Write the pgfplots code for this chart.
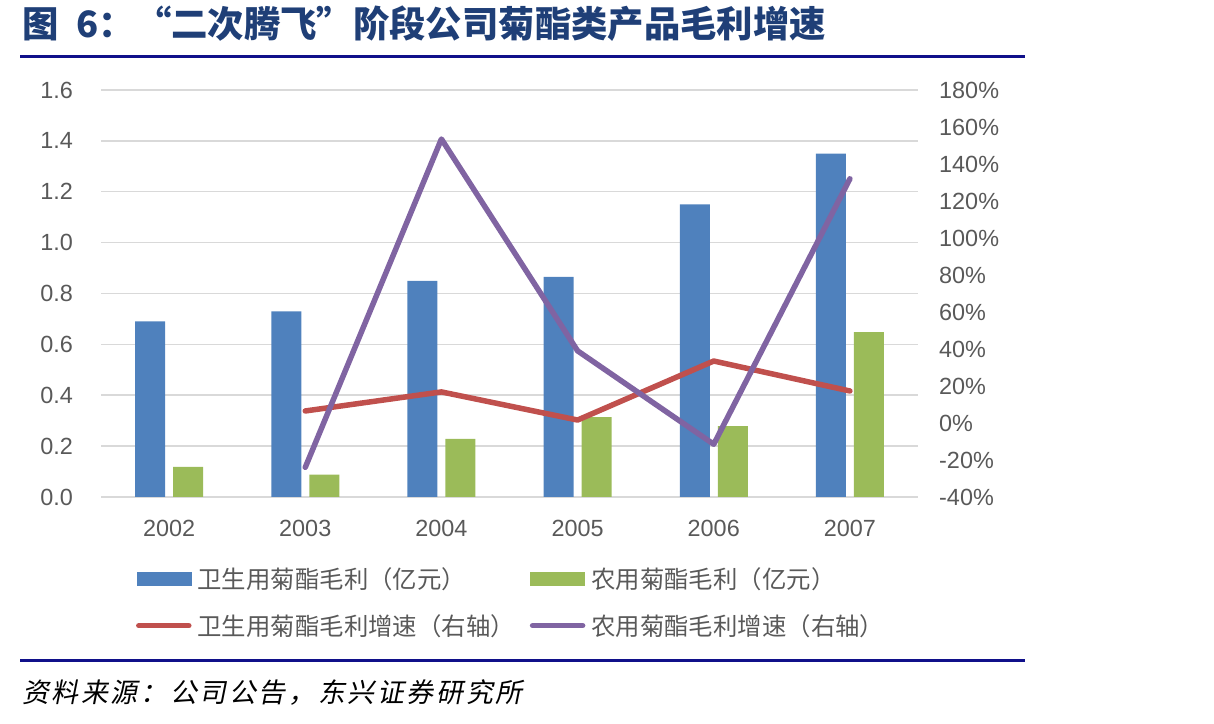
\documentclass[border=0pt]{standalone}
\usepackage{pgfplots}
\pgfplotsset{compat=1.18}
\usepackage{fontspec}
\setmainfont{Liberation Sans}
\newfontfamily\cjk{Noto Sans CJK SC}
\newfontfamily\cjkit{Noto Sans CJK SC}[FakeSlant=0.2, LetterSpace=10]
\definecolor{cblue}{HTML}{4F81BD}
\definecolor{cgreen}{HTML}{9BBB59}
\definecolor{cred}{HTML}{C0504D}
\definecolor{cpurple}{HTML}{8064A2}
\definecolor{tgray}{HTML}{595959}
\definecolor{gridgray}{HTML}{D9D9D9}
\definecolor{titleblue}{HTML}{1F3F77}
\definecolor{navyline}{HTML}{10108A}
\begin{document}
\begin{tikzpicture}[x=1bp,y=1bp]
\useasboundingbox (0bp,0bp) rectangle (1214bp,724bp);
\node[anchor=west, inner sep=0pt, text=titleblue, font=\cjk\bfseries\fontsize{36.5}{36.5}\selectfont] at (22bp,700bp) {图\hspace{18bp}6：“二次腾飞”阶段公司菊酯类产品毛利增速};
\draw[navyline, line width=3bp] (20bp,667bp) -- (1025bp,667bp);
\draw[navyline, line width=3bp] (20bp,63bp) -- (1025bp,63bp);
\node[anchor=west, inner sep=0pt, font=\cjkit\fontsize{27}{27}\selectfont] at (22bp,31bp) {资料来源：公司公告，东兴证券研究所};

\begin{axis}[
  at={(101bp,227bp)}, anchor=south west, scale only axis,
  width=817bp, height=407bp,
  xmin=-0.5, xmax=5.5, ymin=0, ymax=1.6,
  xtick={0,1,2,3,4,5}, xticklabels={2002,2003,2004,2005,2006,2007},
  ytick={0,0.2,0.4,0.6,0.8,1.0,1.2,1.4,1.6},
  axis line style={draw=none}, tick style={draw=none},
  ymajorgrids, grid style={draw=gridgray, line width=1.5bp},
  ybar=8bp, bar width=30bp,
  /pgf/number format/assume math mode=true,
  yticklabel style={/pgf/number format/.cd, fixed, fixed zerofill, precision=1, /tikz/.cd},
  ticklabel style={font=\fontsize{23.5}{24}\selectfont, text=tgray, inner sep=0pt},
  yticklabel style={xshift=-28bp},
  xticklabel style={yshift=-19bp},
]
\addplot[fill=cblue, draw=none] coordinates {(0,0.69) (1,0.73) (2,0.85) (3,0.865) (4,1.15) (5,1.35)};
\addplot[fill=cgreen, draw=none] coordinates {(0,0.118) (1,0.088) (2,0.228) (3,0.314) (4,0.279) (5,0.648)};
\end{axis}

\begin{axis}[
  at={(101bp,227bp)}, anchor=south west, scale only axis,
  width=817bp, height=407bp,
  xmin=-0.5, xmax=5.5, ymin=-40, ymax=180,
  xtick=\empty,
  ytick={-40,-20,0,20,40,60,80,100,120,140,160,180},
  yticklabels={-40\%,-20\%,0\%,20\%,40\%,60\%,80\%,100\%,120\%,140\%,160\%,180\%},
  ytick pos=right,
  axis line style={draw=none}, tick style={draw=none},
  ticklabel style={font=\fontsize{23.5}{24}\selectfont, text=tgray, inner sep=0pt},
  yticklabel style={xshift=21bp},
  legend columns=2,
  legend cell align=left,
  legend style={draw=none, fill=none, at={(0.039,-0.162)}, anchor=north west,
    font=\cjk\fontsize{24.5}{24.5}\selectfont, text=tgray,
    nodes={inner sep=2bp},
    row sep=21bp,
    /tikz/every odd column/.append style={column sep=4bp},
    /tikz/every even column/.append style={column sep=13bp}},
]
\addlegendimage{legend image code/.code={\fill[cblue] (0bp,-6.5bp) rectangle (54bp,6.5bp);}}
\addlegendentry{卫生用菊酯毛利（亿元）}
\addlegendimage{legend image code/.code={\fill[cgreen] (0bp,-6.5bp) rectangle (54bp,6.5bp);}}
\addlegendentry{农用菊酯毛利（亿元）}
\addplot[cred, line width=5.5bp, line cap=round, line join=round, mark=none, legend image code/.code={\draw[cred, line width=5.5bp, line cap=round] (2bp,0bp) -- (52bp,0bp);}]
  coordinates {(1,6.5) (2,16.8) (3,1.6) (4,33.5) (5,17.3)};
\addlegendentry{卫生用菊酯毛利增速（右轴）}
\addplot[cpurple, line width=5.5bp, line cap=round, line join=round, mark=none, legend image code/.code={\draw[cpurple, line width=5.5bp, line cap=round] (2bp,0bp) -- (52bp,0bp);}]
  coordinates {(1,-24) (2,153.5) (3,39) (4,-11.5) (5,132)};
\addlegendentry{农用菊酯毛利增速（右轴）}
\end{axis}
\end{tikzpicture}
\end{document}
